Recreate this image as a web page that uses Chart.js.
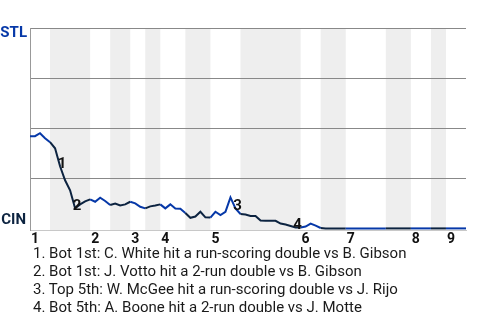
<!DOCTYPE html>
<html><head><meta charset="utf-8">
<script src="https://cdn.jsdelivr.net/npm/chart.js@4"></script>
<style>
body{margin:0;background:#fff;width:480px;height:320px;overflow:hidden;font-family:Roboto,sans-serif;}
#wrap{position:relative;width:480px;height:246px;}
#notes{position:absolute;left:33px;top:244px;font-size:15px;line-height:18px;color:#1a1a1a;white-space:nowrap;}
</style></head><body>
<div id="wrap"><canvas id="c" width="480" height="246"></canvas></div>
<div id="notes"></div>
<script>
// STL win probability after each plate appearance (0 = CIN wins, 1 = STL wins)
const winProb = [
  0.46,0.46,0.475,0.45,0.43,          // top 1st
  0.40,0.31,0.24,0.19,0.10,0.12,0.135,0.145, // bot 1st
  0.133,0.153,0.137,0.117,            // top 2nd
  0.124,0.114,0.12,0.133,             // bot 2nd
  0.125,0.108,0.10,                   // top 3rd
  0.11,0.114,0.12,                    // bot 3rd
  0.10,0.12,0.099,0.098,0.077,        // top 4th
  0.053,0.059,0.083,0.055,0.054,      // bot 4th
  0.083,0.067,0.083,0.155,0.10,0.072, // top 5th
  0.069,0.062,0.062,0.039,0.038,0.038,0.038,0.024,0.019,0.012,0.005,0.005, // bot 5th
  0.009,0.024,0.014,0.002,            // top 6th
  0,0,0,0,0,                          // bot 6th
  0,0,0,0,0,0,0,0,                    // top 7th
  0,0,0,0,0,                          // bot 7th
  0,0,0,0,                            // top 8th
  0,0,0,                              // bot 8th
  0,0,0,0                             // top 9th
];
const inningLabels = ['1','2','3','4','5','6','7','8','9'];
const inningStarts = [0,12,20,26,36,54,63,76,83];
const bottomStarts = [4,16,23,31,42,58,71,80];
const bottomEnds   = [12,20,26,36,54,63,76,83];
const eventIndex = [6,9,41,53];
const eventText = [
  '1. Bot 1st: C. White hit a run-scoring double vs B. Gibson',
  '2. Bot 1st: J. Votto hit a 2-run double vs B. Gibson',
  '3. Top 5th: W. McGee hit a run-scoring double vs J. Rijo',
  '4. Bot 5th: A. Boone hit a 2-run double vs J. Motte'
];
const teamTop = 'STL', teamBottom = 'CIN';

const BLUE = '#0638a8', NAVY = '#0c2340';
const lastIndex = winProb.length - 1;
const points = winProb.map((v,i)=>({x:i,y:v}));
function isBottom(i){
  for(let k=0;k<bottomStarts.length;k++){ if(i>=bottomStarts[k] && i<bottomEnds[k]) return true; }
  return false;
}
document.getElementById('notes').innerHTML = eventText.map(t=>'<div>'+t+'</div>').join('');

const bandsPlugin = {
  id:'bands',
  beforeDraw(chart){
    const {ctx, chartArea:a, scales:{x}} = chart;
    ctx.save();
    ctx.fillStyle = '#eeeeee';
    for(let k=0;k<bottomStarts.length;k++){
      const x0 = x.getPixelForValue(bottomStarts[k]);
      const x1 = x.getPixelForValue(bottomEnds[k]);
      ctx.fillRect(x0, a.top, x1-x0, a.bottom-a.top);
    }
    ctx.restore();
  }
};
const labelsPlugin = {
  id:'labels',
  afterDatasetsDraw(chart){
    const {ctx, chartArea:a, scales:{x,y}} = chart;
    ctx.save();
    ctx.font = 'bold 15px Roboto, sans-serif';
    ctx.textAlign = 'right';
    ctx.textBaseline = 'middle';
    ctx.fillStyle = BLUE;
    ctx.fillText(teamTop, a.left-3, a.top+5);
    ctx.fillStyle = NAVY;
    ctx.fillText(teamBottom, a.left-4, a.bottom-10);
    ctx.fillStyle = '#111';
    ctx.textAlign = 'center';
    eventIndex.forEach((idx,n)=>{
      ctx.fillText(String(n+1), x.getPixelForValue(idx)+2, y.getPixelForValue(winProb[idx])-2);
    });
    ctx.restore();
  }
};

new Chart(document.getElementById('c'), {
  type:'line',
  data:{datasets:[{
    data:points,
    borderColor:BLUE,
    borderWidth:2,
    pointRadius:0,
    tension:0,
    clip:false,
    segment:{ borderColor: c => isBottom(c.p0DataIndex) ? NAVY : BLUE }
  }]},
  options:{
    responsive:false,
    animation:false,
    events:[],
    layout:{padding:{top:28,right:14,left:0,bottom:0}},
    plugins:{legend:{display:false},tooltip:{enabled:false}},
    scales:{
      x:{
        type:'linear', min:0, max:lastIndex,
        afterBuildTicks: s => { s.ticks = inningStarts.map(v=>({value:v+1})); },
        afterFit: s => { s.height = 16; },
        grid:{display:false,drawTicks:false},
        border:{display:true,color:'#c8c8c8',width:1},
        ticks:{
          autoSkip:false, maxRotation:0, padding:1,
          color:'#111', font:{family:'Roboto',size:14,weight:'bold'},
          callback: v => inningLabels[inningStarts.indexOf(v-1)]
        }
      },
      y:{
        min:-0.008, max:1,
        afterBuildTicks: s => { s.ticks = [0.25,0.5,0.75,1].map(v=>({value:v})); },
        afterFit: s => { s.width = 30; },
        grid:{color:'#888',lineWidth:1,drawTicks:false},
        border:{display:true,color:'#999',width:1},
        ticks:{display:false}
      }
    }
  },
  plugins:[bandsPlugin, labelsPlugin]
});
</script>
</body></html>
